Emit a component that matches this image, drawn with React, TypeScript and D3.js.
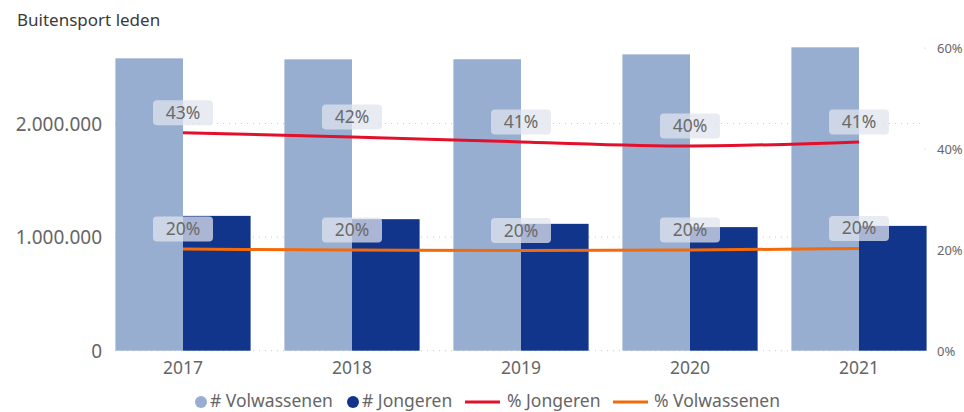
import React from "react";
import * as d3 from "d3";

const years = ["2017", "2018", "2019", "2020", "2021"];
const volwassenen = [2574000, 2565000, 2566000, 2609000, 2671000];
const jongeren = [1187000, 1158000, 1117000, 1088000, 1099000];
const pctJongeren = [0.432, 0.424, 0.414, 0.406, 0.414];
const pctVolwassenen = [0.202, 0.2, 0.199, 0.2, 0.203];
const leftTicks = [0, 1000000, 2000000];
const rightTicks = [0, 0.2, 0.4, 0.6];
const pctLabelsJ = ["43%", "42%", "41%", "40%", "41%"];
const pctLabelsV = ["20%", "20%", "20%", "20%", "20%"];
const legendItems = [
  { label: "# Volwassenen", kind: "dot", color: "#98AED0" },
  { label: "# Jongeren", kind: "dot", color: "#11358A" },
  { label: "% Jongeren", kind: "line", color: "#E3102B" },
  { label: "% Volwassenen", kind: "line", color: "#F26A0C" },
];

const W = 964;
const H = 412;
const FONT = "'Noto Sans', 'Open Sans', sans-serif";
const LIGHT = "#98AED0";
const DARK = "#11358A";
const RED = "#E3102B";
const ORANGE = "#F26A0C";
const TXT = "#666666";

export default function App() {
  const x = d3.scaleBand<string>().domain(years).range([98.5, 943.5]).paddingInner(0.2).paddingOuter(0.1);
  const sub = d3.scaleBand<string>().domain(["V", "J"]).range([0, x.bandwidth()]);
  const yL = d3.scaleLinear().domain([0, 2665000]).range([350.7, 48]);
  const yR = d3.scaleLinear().domain([0, 0.6]).range([351, 48]);
  const cx = (i: number) => (x(years[i]) as number) + x.bandwidth() / 2;
  const fmt = (v: number) => d3.format(",")(v).replace(/,/g, ".");
  const line = d3
    .line<number>()
    .x((_, i) => cx(i))
    .y((d) => yR(d))
    .curve(d3.curveMonotoneX);

  const gx0 = x.range()[0] + 16.5;
  const gx1 = 925;

  const legendPos = [
    { mark: 201, text: 210 },
    { mark: 353, text: 362 },
    { mark: 465, text: 507 },
    { mark: 613, text: 654 },
  ];

  const label = (i: number, v: number, t: string, key: string) => {
    const px = cx(i);
    const py = yR(v) - 20;
    return (
      <g key={key}>
        <rect x={px - 30} y={py - 12.5} width={60} height={25} rx={4} fill="rgb(224,228,238)" fillOpacity={0.74} />
        <text x={px} y={py + 6} textAnchor="middle" fontSize={17.5} fill="#6a6a6a" fontFamily={FONT}>
          {t}
        </text>
      </g>
    );
  };

  return (
    <svg width={W} height={H} style={{ position: "absolute", left: 0, top: 0, background: "#fff" }}>
      <text x={17} y={26} fontSize={17} fill="#3a3a3a" fontFamily={FONT}>
        Buitensport leden
      </text>
      {leftTicks.map((t) => (
        <line key={"g" + t} x1={gx0} x2={gx1} y1={yL(t)} y2={yL(t)} stroke="#c8c8c8" strokeWidth={1} strokeDasharray="1 5" />
      ))}
      {rightTicks.slice(1).map((t) => (
        <circle key={"rd" + t} cx={925} cy={yR(t)} r={0.6} fill="#c8c8c8" />
      ))}
      {leftTicks.map((t) => (
        <text key={"l" + t} x={102} y={yL(t) + 7} textAnchor="end" fontSize={19} fill={TXT} fontFamily={FONT}>
          {fmt(t)}
        </text>
      ))}
      {rightTicks.map((t) => (
        <text key={"r" + t} x={937} y={yR(t) + 5} textAnchor="start" fontSize={13} fill={TXT} fontFamily={FONT}>
          {d3.format(".0%")(t)}
        </text>
      ))}
      {years.map((yr, i) => (
        <g key={"b" + yr}>
          <rect
            x={(x(yr) as number) + (sub("V") as number)}
            y={yL(volwassenen[i])}
            width={sub.bandwidth()}
            height={yL(0) - yL(volwassenen[i])}
            fill={LIGHT}
          />
          <rect
            x={(x(yr) as number) + (sub("J") as number)}
            y={yL(jongeren[i])}
            width={sub.bandwidth()}
            height={yL(0) - yL(jongeren[i])}
            fill={DARK}
          />
        </g>
      ))}
      {years.map((yr, i) => (
        <text key={"x" + yr} x={cx(i)} y={374} textAnchor="middle" fontSize={17.5} fill={TXT} fontFamily={FONT}>
          {yr}
        </text>
      ))}
      <path d={line(pctJongeren) as string} fill="none" stroke={RED} strokeWidth={3} />
      <path d={line(pctVolwassenen) as string} fill="none" stroke={ORANGE} strokeWidth={3} />
      {pctJongeren.map((v, i) => label(i, v, pctLabelsJ[i], "lj" + i))}
      {pctVolwassenen.map((v, i) => label(i, v, pctLabelsV[i], "lv" + i))}
      {legendItems.map((it, i) => (
        <g key={"lg" + i}>
          {it.kind === "dot" ? (
            <circle cx={legendPos[i].mark} cy={402} r={6} fill={it.color} />
          ) : (
            <line x1={legendPos[i].mark} x2={legendPos[i].mark + 35} y1={402} y2={402} stroke={it.color} strokeWidth={3} />
          )}
          <text x={legendPos[i].text} y={407} fontSize={17.5} fill={TXT} fontFamily={FONT}>
            {it.label}
          </text>
        </g>
      ))}
    </svg>
  );
}
